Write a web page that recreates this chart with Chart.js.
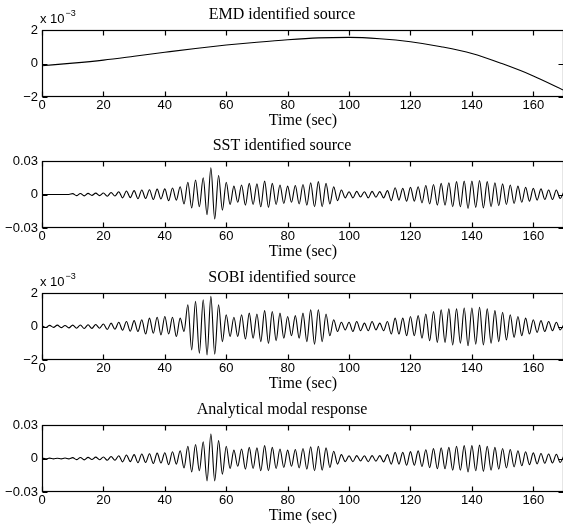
<!DOCTYPE html>
<html>
<head>
<meta charset="utf-8">
<script src="https://cdn.jsdelivr.net/npm/chart.js@4"></script>
<style>
  html, body { margin: 0; padding: 0; background: #fff; overflow: hidden; }
  #wrap { position: relative; width: 563px; height: 528px; overflow: hidden; }
  canvas { position: absolute; left: 0; }
</style>
</head>
<body>
<div id="wrap">
  <canvas id="emd" width="564" height="132" style="top:0px"></canvas>
  <canvas id="sst" width="564" height="132" style="top:131px"></canvas>
  <canvas id="sobi" width="564" height="132" style="top:263px"></canvas>
  <canvas id="modal" width="564" height="132" style="top:395px"></canvas>
</div>
<script>
// ---- data ----
const xTicks = [0, 20, 40, 60, 80, 100, 120, 140, 160];
const milliTicks = [-2, 0, 2];          // panels drawn in units of 10^-3
const smallTicks = [-0.03, 0, 0.03];

// EMD source (x 10^-3), sampled every 10 s
const emdTimes = [0, 10, 20, 30, 40, 50, 60, 70, 80, 90, 100, 110, 120, 130, 140, 150, 160, 170];
const emdValues = [-0.13, 0.02, 0.2, 0.43, 0.67, 0.9, 1.1, 1.27, 1.42, 1.53, 1.56, 1.48, 1.3, 1.0, 0.6, -0.02, -0.74, -1.6];

// peak/trough times of the oscillating records (s)
const peakTimes = [
  0, 1.25, 2.5, 3.75, 5, 6.25, 7.5, 8.75,
  10, 11.25, 12.5, 13.75, 15, 16.25, 17.5, 18.75,
  20, 21.25, 22.5, 23.75, 25, 26.25, 27.5, 28.75,
  30, 31.25, 32.5, 33.75, 35, 36.25, 37.5, 38.75,
  40, 41.25, 42.5, 43.75, 45, 46.25, 47.5, 48.75,
  50, 51.25, 52.5, 53.75, 55, 56.25, 57.5, 58.75,
  60, 61.25, 62.5, 63.75, 65, 66.25, 67.5, 68.75,
  70, 71.25, 72.5, 73.75, 75, 76.25, 77.5, 78.75,
  80, 81.25, 82.5, 83.75, 85, 86.25, 87.5, 88.75,
  90, 91.25, 92.5, 93.75, 95, 96.25, 97.5, 98.75,
  100, 101.25, 102.5, 103.75, 105, 106.25, 107.5, 108.75,
  110, 111.25, 112.5, 113.75, 115, 116.25, 117.5, 118.75,
  120, 121.25, 122.5, 123.75, 125, 126.25, 127.5, 128.75,
  130, 131.25, 132.5, 133.75, 135, 136.25, 137.5, 138.75,
  140, 141.25, 142.5, 143.75, 145, 146.25, 147.5, 148.75,
  150, 151.25, 152.5, 153.75, 155, 156.25, 157.5, 158.75,
  160, 161.25, 162.5, 163.75, 165, 166.25, 167.5, 168.75,
  170
];

const sstValues = [
  0, 0, 0, 0, 0, 0, 0, 0,
  0.0008, -0.0010, 0.0009, -0.0012, 0.0010, -0.0008, 0.0012, -0.0010,
  0.0013, -0.0015, 0.0018, -0.0014, 0.0025, -0.0030, 0.0032, -0.0028,
  0.0035, -0.0038, 0.0040, -0.0036, 0.0042, -0.0045, 0.0048, -0.0040,
  0.0050, -0.0055, 0.0058, -0.0050, 0.0070, -0.0085, 0.0110, -0.0120,
  0.0130, -0.0110, 0.0150, -0.0180, 0.0240, -0.0220, 0.0170, -0.0140,
  0.0110, -0.0090, 0.0075, -0.0070, 0.0085, -0.0095, 0.0100, -0.0090,
  0.0095, -0.0110, 0.0120, -0.0115, 0.0100, -0.0090, 0.0085, -0.0080,
  0.0075, -0.0070, 0.0080, -0.0085, 0.0090, -0.0095, 0.0105, -0.0110,
  0.0115, -0.0110, 0.0100, -0.0085, 0.0070, -0.0055, 0.0040, -0.0030,
  0.0025, -0.0030, 0.0028, -0.0022, 0.0025, -0.0030, 0.0028, -0.0024,
  0.0026, -0.0030, 0.0035, -0.0055, 0.0060, -0.0050, 0.0055, -0.0060,
  0.0065, -0.0060, 0.0070, -0.0075, 0.0080, -0.0085, 0.0090, -0.0095,
  0.0100, -0.0095, 0.0105, -0.0110, 0.0115, -0.0110, 0.0120, -0.0125,
  0.0120, -0.0115, 0.0125, -0.0120, 0.0115, -0.0110, 0.0105, -0.0100,
  0.0095, -0.0090, 0.0085, -0.0080, 0.0075, -0.0070, 0.0065, -0.0060,
  0.0055, -0.0050, 0.0050, -0.0045, 0.0040, -0.0045, 0.0040, -0.0035,
  0.0030
];

// SOBI source (x 10^-3)
const sobiValues = [
  0.05, -0.06, 0.07, -0.05, 0.08, -0.07, 0.06, -0.08,
  0.08, -0.10, 0.09, -0.12, 0.10, -0.11, 0.12, -0.10,
  0.15, -0.18, 0.20, -0.16, 0.25, -0.22, 0.30, -0.28,
  0.35, -0.30, 0.40, -0.45, 0.50, -0.40, 0.55, -0.50,
  0.60, -0.45, 0.55, -0.60, 0.50, -0.30, 1.30, -1.40,
  1.50, -1.60, 1.60, -1.70, 1.80, -1.65, 1.30, -0.90,
  0.70, -0.60, 0.55, -0.60, 0.70, -0.75, 0.80, -0.70,
  0.75, -0.90, 0.95, -1.00, 0.90, -0.85, 0.80, -0.70,
  0.60, -0.55, 0.65, -0.70, 0.80, -0.90, 1.00, -1.05,
  1.00, -0.90, 0.75, -0.55, 0.40, -0.30, 0.25, -0.20,
  0.25, -0.30, 0.30, -0.25, 0.20, -0.25, 0.30, -0.20,
  0.20, -0.25, 0.30, -0.45, 0.50, -0.45, 0.50, -0.55,
  0.60, -0.55, 0.65, -0.70, 0.75, -0.85, 0.90, -0.95,
  1.00, -0.95, 1.05, -1.10, 1.05, -1.00, 1.10, -1.15,
  1.10, -1.05, 1.15, -1.10, 1.05, -1.00, 0.95, -0.90,
  0.85, -0.80, 0.70, -0.65, 0.60, -0.55, 0.50, -0.45,
  0.40, -0.35, 0.35, -0.30, 0.30, -0.25, 0.25, -0.20,
  0.15
];

const modalValues = [
  0.0003, -0.0002, 0.0003, -0.0003, 0.0002, -0.0003, 0.0004, -0.0003,
  0.0008, -0.0010, 0.0009, -0.0012, 0.0010, -0.0009, 0.0012, -0.0011,
  0.0014, -0.0016, 0.0018, -0.0015, 0.0025, -0.0030, 0.0032, -0.0028,
  0.0035, -0.0038, 0.0040, -0.0036, 0.0042, -0.0045, 0.0048, -0.0040,
  0.0052, -0.0055, 0.0060, -0.0050, 0.0070, -0.0085, 0.0110, -0.0120,
  0.0125, -0.0110, 0.0150, -0.0200, 0.0220, -0.0200, 0.0160, -0.0140,
  0.0110, -0.0090, 0.0075, -0.0070, 0.0085, -0.0095, 0.0100, -0.0090,
  0.0095, -0.0110, 0.0115, -0.0110, 0.0100, -0.0090, 0.0085, -0.0080,
  0.0075, -0.0070, 0.0080, -0.0085, 0.0090, -0.0095, 0.0105, -0.0110,
  0.0110, -0.0105, 0.0095, -0.0080, 0.0065, -0.0050, 0.0035, -0.0028,
  0.0025, -0.0028, 0.0026, -0.0022, 0.0025, -0.0028, 0.0026, -0.0024,
  0.0026, -0.0030, 0.0035, -0.0050, 0.0055, -0.0050, 0.0055, -0.0060,
  0.0062, -0.0060, 0.0068, -0.0072, 0.0078, -0.0082, 0.0088, -0.0092,
  0.0095, -0.0092, 0.0100, -0.0105, 0.0110, -0.0105, 0.0115, -0.0120,
  0.0115, -0.0110, 0.0120, -0.0115, 0.0110, -0.0105, 0.0100, -0.0095,
  0.0090, -0.0085, 0.0080, -0.0075, 0.0070, -0.0065, 0.0060, -0.0055,
  0.0050, -0.0048, 0.0045, -0.0042, 0.0040, -0.0040, 0.0038, -0.0035,
  0.0030
];

// ---- drawing ----
const TICK_FONT = { family: "'Liberation Sans', Arial, sans-serif", size: 13 };
const SERIF_FONT = { family: "'Liberation Serif', 'Times New Roman', serif", size: 16, weight: "normal" };

// matlab-like box with inward ticks, plus the "x 10^-3" multiplier
const framePlugin = {
  id: "frame",
  afterDraw(chart) {
    const { ctx, chartArea: a, scales } = chart;
    const left = Math.round(a.left) + 0.5;
    const right = Math.round(a.right) - 0.5;
    const top = Math.round(a.top) + 0.5;
    const bottom = Math.round(a.bottom) - 0.5;
    ctx.save();
    ctx.strokeStyle = "#000";
    ctx.lineWidth = 1.2;
    ctx.strokeRect(left, top, right - left, bottom - top);
    ctx.beginPath();
    scales.x.ticks.forEach((t) => {
      const px = Math.round(scales.x.getPixelForValue(t.value)) + 0.5;
      ctx.moveTo(px, top); ctx.lineTo(px, top + 5);
      ctx.moveTo(px, bottom); ctx.lineTo(px, bottom - 5);
    });
    scales.y.ticks.forEach((t) => {
      const py = Math.round(scales.y.getPixelForValue(t.value)) + 0.5;
      ctx.moveTo(left, py); ctx.lineTo(left + 5, py);
      ctx.moveTo(right, py); ctx.lineTo(right - 5, py);
    });
    ctx.stroke();

    const mult = chart.options.plugins.frame && chart.options.plugins.frame.multiplier;
    if (mult) {
      ctx.fillStyle = "#000";
      ctx.textBaseline = "alphabetic";
      ctx.font = "13px " + TICK_FONT.family;
      ctx.fillText("x 10", a.left - 2, a.top - 7);
      const w = ctx.measureText("x 10").width;
      ctx.font = "9px " + TICK_FONT.family;
      ctx.fillText("\u22123", a.left - 2 + w + 1, a.top - 14);
    }
    ctx.restore();
  },
};

function fmt(v) {
  if (v === 0) return "0";
  const s = String(Math.abs(v));
  return v < 0 ? "\u2212" + s : s;
}

function makePanel(id, title, times, values, yTicks, multiplier) {
  const ctx = document.getElementById(id).getContext("2d");
  return new Chart(ctx, {
    type: "line",
    data: {
      datasets: [
        {
          data: times.map((t, i) => ({ x: t, y: values[i] })),
          borderColor: "#000",
          borderWidth: 1.1,
          pointRadius: 0,
          fill: false,
          cubicInterpolationMode: "monotone",
        },
      ],
    },
    options: {
      responsive: false,
      animation: false,
      devicePixelRatio: 1,
      layout: { padding: 0 },
      scales: {
        x: {
          type: "linear",
          min: 0,
          max: 170,
          grid: { display: false, drawTicks: false },
          border: { display: false },
          afterBuildTicks: (scale) => { scale.ticks = xTicks.map((v) => ({ value: v })); },
          afterFit: (scale) => { scale.height = 35; },
          ticks: { color: "#000", font: TICK_FONT, padding: 1, maxRotation: 0, autoSkip: false, callback: (v) => fmt(v) },
          title: { display: true, text: "Time (sec)", color: "#000", font: SERIF_FONT, padding: { top: 0, bottom: 2 } },
        },
        y: {
          type: "linear",
          min: yTicks[0],
          max: yTicks[yTicks.length - 1],
          grid: { display: false, drawTicks: false },
          border: { display: false },
          afterBuildTicks: (scale) => { scale.ticks = yTicks.map((v) => ({ value: v })); },
          afterFit: (scale) => { scale.width = 42; },
          ticks: { color: "#000", font: TICK_FONT, padding: 4, autoSkip: false, callback: (v) => fmt(v) },
        },
      },
      plugins: {
        legend: { display: false },
        tooltip: { enabled: false },
        title: { display: true, text: title, color: "#000", font: SERIF_FONT, padding: { top: 5.4, bottom: 5.4 } },
        frame: { multiplier: multiplier },
      },
    },
    plugins: [framePlugin],
  });
}

makePanel("emd", "EMD identified source", emdTimes, emdValues, milliTicks, true);
makePanel("sst", "SST identified source", peakTimes, sstValues, smallTicks, false);
makePanel("sobi", "SOBI identified source", peakTimes, sobiValues, milliTicks, true);
makePanel("modal", "Analytical modal response", peakTimes, modalValues, smallTicks, false);
</script>
</body>
</html>
